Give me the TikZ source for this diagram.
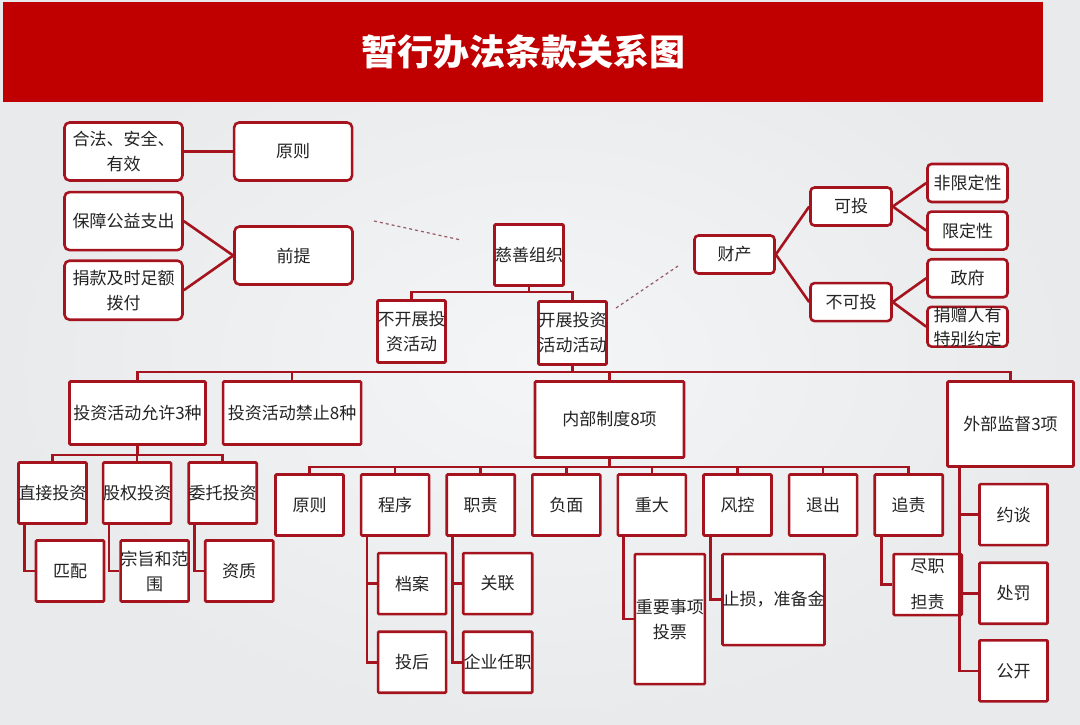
\documentclass[tikz,border=0pt]{standalone}
\usepackage{fontspec}
\newfontfamily\cjkfont{Noto Sans CJK SC}
\usepackage{xcolor}
\definecolor{titleRed}{RGB}{192, 0, 0}
\definecolor{lineRed}{RGB}{165, 20, 30}
\definecolor{bgGray}{RGB}{232, 234, 236}
\definecolor{bgLight}{RGB}{244, 245, 246}
\definecolor{textGray}{RGB}{35, 35, 35}
\definecolor{dashGray}{RGB}{150, 90, 100}
\usetikzlibrary{positioning}
\tikzset{
    base/.style={draw=lineRed, line width=2.6pt, fill=white, align=center, inner sep=0pt, text=textGray, font=\cjkfont\fontsize{17}{25}\selectfont},
    softbox/.style={base, rounded corners=5pt, minimum width=118pt, minimum height=58pt},
    tagbox/.style={base, rounded corners=4pt, minimum width=80pt, minimum height=38pt},
    cellbox/.style={base, rounded corners=1pt, minimum width=68pt, minimum height=61pt},
    link/.style={draw=lineRed, line width=2.6pt},
    hint/.style={draw=dashGray, line width=1.2pt, dashed}
}

\begin{document}
\begin{tikzpicture}[x=1pt, y=-1pt]
    \useasboundingbox (0,0) rectangle (1080,724);
    \shade[inner color=bgLight, outer color=bgGray] (0,0) rectangle (1080,724);

    % --- TITLE ---
    \node[fill=titleRed, minimum width=1040pt, minimum height=100pt, inner sep=0pt, text=white, font=\cjkfont\fontsize{36}{40}\selectfont\bfseries] (titleBar) at (523,52) {暂行办法条款关系图};

    % --- PRINCIPLE / PREMISE ---
    \node[softbox] (heFa) at (123.5,151.5) {合法、安全、\\有效};
    \node[softbox, right=49pt of heFa] (yuanZe) {原则};
    \node[softbox, below=9pt of heFa] (baoZhang) {保障公益支出};
    \node[softbox, minimum height=59pt, below=8pt of baoZhang] (juanKuan) {捐款及时足额\\拨付};
    \node[softbox] (qianTi) at (293.5,255.5) {前提};

    \draw[link] (heFa) -- (yuanZe);
    \draw[link] (baoZhang.east) -- (qianTi.west);
    \draw[link] (juanKuan.east) -- (qianTi.west);

    % --- CHARITY ---
    \node[cellbox, minimum width=69pt] (ciShan) at (529,255) {慈善组织};
    \node[cellbox, minimum height=62pt] (buKai) at (411.5,331.5) {不开展投\\资活动};
    \node[cellbox, minimum height=63pt] (kaiZhan) at (572.5,333) {开展投资\\活动活动};

    \draw[link] (ciShan.south) -- ++(0,5) coordinate (bar1);
    \draw[link] (bar1) -| (buKai.north);
    \draw[link] (bar1) -| (kaiZhan.north);

    % dashed hints
    \coordinate (hintA) at (374,221);
    \coordinate (hintB) at (461,240);
    \coordinate (hintC) at (616,308);
    \coordinate (hintD) at (678,266);
    \draw[hint] (hintA) -- (hintB);
    \draw[hint] (hintC) -- (hintD);

    % --- PROPERTY ---
    \node[tagbox] (caiChan) at (734.5,254.5) {财产};
    \node[tagbox, minimum width=81pt] (keTou) at (851,206.5) {可投};
    \node[tagbox, minimum width=81pt, below=55pt of keTou] (buKeTou) {不可投};
    \node[tagbox] (feiXian) at (967.5,183) {非限定性};
    \node[tagbox, below=7pt of feiXian] (xianDing) {限定性};
    \node[tagbox, below=7pt of xianDing] (zhengFu) {政府};
    \node[tagbox, below=7pt of zhengFu, font=\cjkfont\fontsize{17}{24}\selectfont] (juanZeng) {捐赠人有\\特别约定};

    \draw[link] (caiChan.east) -- (keTou.west);
    \draw[link] (caiChan.east) -- (buKeTou.west);
    \draw[link] (keTou.east) -- (feiXian.west);
    \draw[link] (keTou.east) -- (xianDing.west);
    \draw[link] (buKeTou.east) -- (zhengFu.west);
    \draw[link] (buKeTou.east) -- (juanZeng.west);

    % --- LEVEL 2 ---
    \node[cellbox, minimum width=136pt, minimum height=63pt] (yunXu) at (137.5,413) {投资活动允许3种};
    \node[cellbox, minimum width=138pt, minimum height=63pt, right=15pt of yunXu] (jinZhi) {投资活动禁止8种};
    \node[cellbox, minimum width=149pt, minimum height=76pt] (neiBu) at (609.5,419.5) {内部制度8项};
    \node[cellbox, minimum width=126pt, minimum height=85pt] (waiBu) at (1010.5,424) {外部监督3项};

    \draw[link] (kaiZhan.south) -- ++(0,6) coordinate (bar2);
    \draw[link] (bar2) -| (yunXu.north);
    \draw[link] (bar2) -| (jinZhi.north);
    \draw[link] (bar2) -| (neiBu.north);
    \draw[link] (bar2) -| (waiBu.north);

    % --- ALLOWED 3 ---
    \node[cellbox] (zhiJie) at (52.5,493) {直接投资};
    \node[cellbox, right=14pt of zhiJie] (guQuan) {股权投资};
    \node[cellbox, right=15pt of guQuan] (weiTuo) {委托投资};
    \node[cellbox] (piPei) at (70,571) {匹配};
    \node[cellbox, right=14pt of piPei] (zongZhi) {宗旨和范\\围};
    \node[cellbox, right=14pt of zongZhi] (ziZhi) {资质};

    \draw[link] (yunXu.south) -- ++(0,9) coordinate (bar3);
    \draw[link] (bar3) -| (zhiJie.north);
    \draw[link] (bar3) -| (guQuan.north);
    \draw[link] (bar3) -| (weiTuo.north);
    \draw[link] ([xshift=7pt]zhiJie.south west) |- (piPei.west);
    \draw[link] ([xshift=7pt]guQuan.south west) |- (zongZhi.west);
    \draw[link] ([xshift=7pt]weiTuo.south west) |- (ziZhi.west);

    % --- INTERNAL 8 ---
    \node[cellbox] (yuanZe2) at (309.5,505) {原则};
    \node[cellbox, right=15pt of yuanZe2] (chengXu) {程序};
    \node[cellbox, right=15pt of chengXu] (zhiZe) {职责};
    \node[cellbox, right=15pt of zhiZe] (fuMian) {负面};
    \node[cellbox, right=15pt of fuMian] (zhongDa) {重大};
    \node[cellbox, right=15pt of zhongDa] (fengKong) {风控};
    \node[cellbox, right=15pt of fengKong] (tuiChu) {退出};
    \node[cellbox, right=15pt of tuiChu] (zhuiZe) {追责};

    \draw[link] (neiBu.south) -- ++(0,8) coordinate (bar4);
    \draw[link] (bar4) -| (yuanZe2.north);
    \draw[link] (bar4) -| (chengXu.north);
    \draw[link] (bar4) -| (zhiZe.north);
    \draw[link] (bar4) -| (fuMian.north);
    \draw[link] (bar4) -| (zhongDa.north);
    \draw[link] (bar4) -| (fengKong.north);
    \draw[link] (bar4) -| (tuiChu.north);
    \draw[link] (bar4) -| (zhuiZe.north);

    \node[cellbox, below=15pt of chengXu, xshift=17pt] (dangAn) {档案};
    \node[cellbox, below=15pt of dangAn] (touHou) {投后};
    \node[cellbox, minimum width=69pt, below=15pt of zhiZe, xshift=17pt] (guanLian) {关联};
    \node[cellbox, minimum width=69pt, below=15pt of guanLian] (qiYe) {企业任职};
    \node[cellbox, minimum width=70pt, minimum height=130pt, below=16pt of zhongDa, xshift=18pt] (zhongYao) {重要事项\\投票};
    \node[cellbox, minimum width=102pt, minimum height=91pt, below=16pt of fengKong, xshift=36pt] (zhiSun) {止损，准备金};
    \node[cellbox, below=16pt of zhuiZe, xshift=19pt] (jinZe) {尽职\\[11pt]担责};

    \draw[link] ([xshift=7pt]chengXu.south west) |- (dangAn.west);
    \draw[link] ([xshift=7pt]chengXu.south west) |- (touHou.west);
    \draw[link] ([xshift=7pt]zhiZe.south west) |- (guanLian.west);
    \draw[link] ([xshift=7pt]zhiZe.south west) |- (qiYe.west);
    \draw[link] ([xshift=7pt]zhongDa.south west) |- (zhongYao.west);
    \draw[link] ([xshift=8pt]fengKong.south west) |- (zhiSun.west);
    \draw[link] ([xshift=8pt]zhuiZe.south west) |- (jinZe.west);

    % --- EXTERNAL 3 ---
    \node[cellbox, below=15pt of waiBu, xshift=3pt] (yueTan) {约谈};
    \node[cellbox, below=15pt of yueTan] (chuFa) {处罚};
    \node[cellbox, below=14pt of chuFa] (gongKai) {公开};

    \draw[link] ([xshift=13pt]waiBu.south west) |- (yueTan.west);
    \draw[link] ([xshift=13pt]waiBu.south west) |- (chuFa.west);
    \draw[link] ([xshift=13pt]waiBu.south west) |- (gongKai.west);
\end{tikzpicture}
\end{document}
